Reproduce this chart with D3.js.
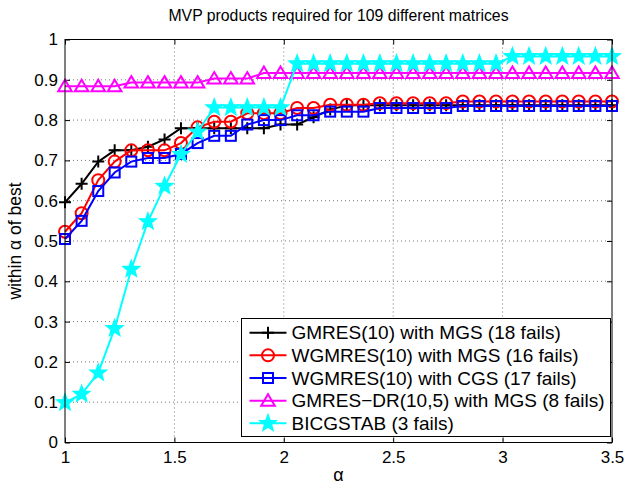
<!DOCTYPE html>
<html><head><meta charset="utf-8">
<script src="https://cdn.jsdelivr.net/npm/d3@7"></script>
<style>body{margin:0;background:#fff}svg{display:block}text{font-family:"Liberation Sans",Arial,Helvetica,sans-serif}</style>
</head><body><div id="chart"></div>
<script>
const alphas = [1.000,1.076,1.152,1.227,1.303,1.379,1.455,1.530,1.606,1.682,1.758,1.833,1.909,1.985,2.061,2.136,2.212,2.288,2.364,2.439,2.515,2.591,2.667,2.742,2.818,2.894,2.970,3.045,3.121,3.197,3.273,3.348,3.424,3.500];
const gmresMGS = [0.596,0.642,0.697,0.725,0.725,0.734,0.752,0.780,0.780,0.780,0.780,0.780,0.780,0.789,0.789,0.807,0.826,0.837,0.837,0.837,0.837,0.837,0.837,0.837,0.837,0.837,0.837,0.837,0.837,0.837,0.837,0.837,0.837,0.837];
const wgmresMGS = [0.523,0.569,0.651,0.697,0.725,0.725,0.725,0.743,0.782,0.796,0.796,0.817,0.817,0.817,0.830,0.830,0.838,0.838,0.838,0.842,0.842,0.842,0.842,0.842,0.846,0.846,0.846,0.846,0.846,0.846,0.846,0.846,0.846,0.846];
const wgmresCGS = [0.505,0.550,0.624,0.670,0.697,0.706,0.706,0.716,0.743,0.761,0.761,0.789,0.800,0.800,0.812,0.812,0.821,0.821,0.821,0.830,0.830,0.830,0.830,0.830,0.835,0.835,0.835,0.835,0.835,0.835,0.835,0.835,0.835,0.835];
const gmresDR = [0.884,0.884,0.884,0.884,0.893,0.893,0.893,0.893,0.893,0.903,0.903,0.903,0.917,0.917,0.917,0.917,0.917,0.917,0.917,0.917,0.917,0.917,0.917,0.917,0.917,0.917,0.917,0.917,0.917,0.917,0.917,0.917,0.917,0.917];
const bicgstab = [0.099,0.120,0.173,0.283,0.430,0.548,0.636,0.715,0.771,0.831,0.831,0.831,0.831,0.831,0.940,0.940,0.940,0.940,0.940,0.940,0.940,0.940,0.940,0.940,0.940,0.940,0.940,0.958,0.958,0.958,0.958,0.958,0.958,0.958];
const seriesNames = ["GMRES(10) with MGS (18 fails)","WGMRES(10) with MGS (16 fails)","WGMRES(10) with CGS (17 fails)","GMRES\u2212DR(10,5) with MGS (8 fails)","BICGSTAB (3 fails)"];
const xTicks = [1,1.5,2,2.5,3,3.5];
const yTicks = [0,0.1,0.2,0.3,0.4,0.5,0.6,0.7,0.8,0.9,1];
const titleText = "MVP products required for 109 different matrices";

const series = [
  {name:seriesNames[0], vals:gmresMGS, color:"#000000", marker:"plus"},
  {name:seriesNames[1], vals:wgmresMGS, color:"#ff0000", marker:"circle"},
  {name:seriesNames[2], vals:wgmresCGS, color:"#0000ff", marker:"square"},
  {name:seriesNames[3], vals:gmresDR, color:"#ff00ff", marker:"triangle"},
  {name:seriesNames[4], vals:bicgstab, color:"#00ffff", marker:"star"}
];

const W=628,H=484;
const m={l:65,r:612,t:39.5,b:442.5};
const x=d3.scaleLinear().domain([1,3.5]).range([m.l,m.r]);
const y=d3.scaleLinear().domain([0,1]).range([m.b,m.t]);
const svg=d3.select("#chart").append("svg").attr("width",W).attr("height",H);
svg.append("rect").attr("width",W).attr("height",H).attr("fill","#fff");

// grid
const g=svg.append("g");
g.selectAll(".gx").data(xTicks.slice(1,-1)).join("line")
 .attr("x1",d=>x(d)).attr("x2",d=>x(d)).attr("y1",m.t).attr("y2",m.b)
 .attr("stroke","#777").attr("stroke-width",1).attr("stroke-dasharray","1,3");
g.selectAll(".gy").data(yTicks.slice(1,-1)).join("line")
 .attr("y1",d=>y(d)).attr("y2",d=>y(d)).attr("x1",m.l).attr("x2",m.r)
 .attr("stroke","#777").attr("stroke-width",1).attr("stroke-dasharray","1,3");

// axes
const fs=17;
const ax=svg.append("g").attr("transform",`translate(0,${m.b})`)
 .call(d3.axisBottom(x).tickValues(xTicks).tickFormat(d3.format("")).tickSizeInner(-5).tickSizeOuter(0).tickPadding(8));
const axT=svg.append("g").attr("transform",`translate(0,${m.t})`)
 .call(d3.axisTop(x).tickValues(xTicks).tickFormat("").tickSizeInner(-5).tickSizeOuter(0));
const ay=svg.append("g").attr("transform",`translate(${m.l},0)`)
 .call(d3.axisLeft(y).tickValues(yTicks).tickFormat(d3.format("")).tickSizeInner(-5).tickSizeOuter(0).tickPadding(7));
const ayR=svg.append("g").attr("transform",`translate(${m.r},0)`)
 .call(d3.axisRight(y).tickValues(yTicks).tickFormat("").tickSizeInner(-5).tickSizeOuter(0));
[ax,axT,ay,ayR].forEach(a=>{a.select(".domain").remove();a.selectAll("line").attr("stroke","#000");a.selectAll("text").attr("font-size",fs).attr("fill","#000").attr("font-family",null);});

// lines + markers
const line=d3.line().x((d,i)=>x(alphas[i])).y(d=>y(d));
const starPts=(cx,cy,R)=>{const r=R*0.42;let p=[];for(let k=0;k<10;k++){const a=-Math.PI/2+k*Math.PI/5;const rr=k%2?r:R;p.push([cx+rr*Math.cos(a),cy+rr*Math.sin(a)]);}return p.map(q=>q.join(",")).join(" ");};
function drawMarker(sel,type,cx,cy,color){
  if(type==="plus"){
    sel.append("path").attr("d",`M${cx-6},${cy}H${cx+6}M${cx},${cy-6}V${cy+6}`).attr("stroke",color).attr("stroke-width",2).attr("fill","none");
  } else if(type==="circle"){
    sel.append("circle").attr("cx",cx).attr("cy",cy).attr("r",6).attr("stroke",color).attr("stroke-width",2).attr("fill","none");
  } else if(type==="square"){
    sel.append("rect").attr("x",cx-5).attr("y",cy-5).attr("width",10).attr("height",10).attr("stroke",color).attr("stroke-width",2).attr("fill","none");
  } else if(type==="triangle"){
    sel.append("path").attr("d",`M${cx},${cy-6.5}L${cx+6.8},${cy+5}L${cx-6.8},${cy+5}Z`).attr("stroke",color).attr("stroke-width",2).attr("fill","none");
  } else if(type==="star"){
    sel.append("polygon").attr("points",starPts(cx,cy,8.5)).attr("stroke",color).attr("stroke-width",1.5).attr("fill",color);
  }
}
series.forEach(s=>{
  const gs=svg.append("g");
  gs.append("path").datum(s.vals).attr("d",line).attr("fill","none").attr("stroke",s.color).attr("stroke-width",2);
  s.vals.forEach((v,i)=>drawMarker(gs,s.marker,x(alphas[i]),y(v),s.color));
});

// box
svg.append("rect").attr("x",m.l).attr("y",m.t).attr("width",m.r-m.l).attr("height",m.b-m.t).attr("fill","none").attr("stroke","#000").attr("stroke-width",1);

// title & labels
svg.append("text").attr("x",(m.l+m.r)/2).attr("y",21).attr("text-anchor","middle").attr("font-size",15.8).text(titleText);
svg.append("text").attr("x",(m.l+m.r)/2).attr("y",481).attr("text-anchor","middle").attr("font-size",18).text("\u03b1");
svg.append("text").attr("transform",`translate(21,${(m.t+m.b)/2}) rotate(-90)`).attr("text-anchor","middle").attr("font-size",17.5).text("within \u03b1 of best");

// legend
const L={x:241.5,y:318.5,w:369,h:118};
const lg=svg.append("g");
lg.append("rect").attr("x",L.x).attr("y",L.y).attr("width",L.w).attr("height",L.h).attr("fill","#fff").attr("stroke","#000").attr("stroke-width",1);
series.forEach((s,i)=>{
  const cy=332.7+i*22.65;
  lg.append("line").attr("x1",249.5).attr("x2",286.5).attr("y1",cy).attr("y2",cy).attr("stroke",s.color).attr("stroke-width",2);
  drawMarker(lg,s.marker,268,cy,s.color);
  lg.append("text").attr("x",291.5).attr("y",cy+6.5).attr("font-size",19).text(s.name);
});
</script></body></html>
